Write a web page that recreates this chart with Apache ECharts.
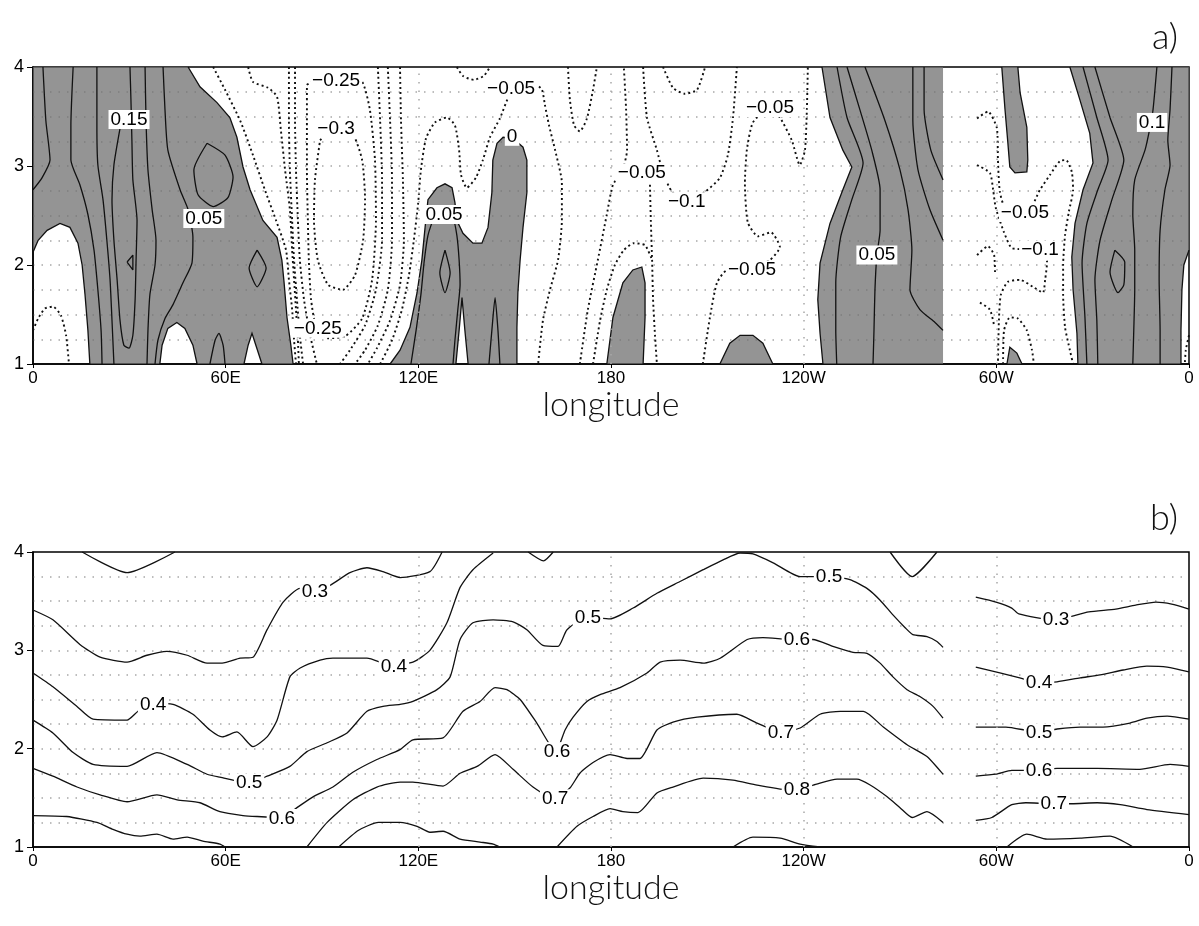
<!DOCTYPE html>
<html>
<head>
<meta charset="utf-8">
<script src="https://cdn.jsdelivr.net/npm/echarts@6.0.0/dist/echarts.min.js"></script>
<style>
  html, body { margin: 0; background: #fff; }
  #chart { width: 1199px; height: 926px; }
</style>
</head>
<body>
<div id="chart"></div>
<script>
// axis ticks
const lonTicks = [0, 60, 120, 180, 240, 300, 360];
const lonNames = ['0', '60E', '120E', '180', '120W', '60W', '0'];
const gridLons = [120, 180, 240, 300];   // dotted meridians
const GAP_LON = 283.4;                    // data stops here in panel a (missing strip)

// ---- panel a : shaded (positive) regions, [lon, y] ----
const shadeA = [
  [[0,4],[48.3,4],[52.0,3.80],[57.3,3.64],[61.3,3.49],[63.5,3.29],[65.4,2.99],[67.6,2.76],[71.6,2.45],[76.0,2.28],[77.5,2.05],[78.2,1.82],[79.1,1.47],[80.3,1.19],[81.0,1],
   [71.3,1],[69.4,1.19],[68.2,1.31],[67.0,1.19],[65.7,1],[51.1,1],[49.8,1.19],[47.3,1.36],[44.8,1.42],[42.0,1.36],[40.2,1.19],[39.5,1],
   [17.7,1],[17.1,1.34],[16.2,1.70],[15.3,2.00],[14.0,2.22],[11.5,2.38],[8.4,2.42],[4.4,2.35],[1.6,2.25],[0,2.13]],
  [[111.2,1],[114.3,1.14],[117.4,1.37],[119.6,1.72],[121.1,2.05],[122.1,2.38],[123.0,2.66],[125.8,2.78],[128.3,2.82],[130.5,2.78],[131.4,2.63],[132.0,2.45],[133.9,2.32],[137.0,2.22],[139.8,2.22],[141.7,2.38],[142.9,2.73],[143.2,3.06],[144.5,3.23],[146.4,3.29],[149.5,3.28],[152.6,3.19],[153.8,3.06],[153.8,2.73],[152.6,2.38],[151.7,2.05],[151.0,1.72],[150.7,1.37],[150.7,1],
   [135.5,1],[134.5,1.34],[133.6,1.67],[132.7,1.34],[131.7,1]],
  [[178.7,1],[180.6,1.47],[183.7,1.82],[186.8,1.95],[189.6,1.98],[190.6,1.82],[190.6,1.47],[190.0,1]],
  [[213.9,1],[217.0,1.21],[220.2,1.29],[224.2,1.29],[227.3,1.21],[230.4,1]],
  [[245.7,4],[283.4,4],[283.4,1],[246.0,1],[245.1,1.31],[244.4,1.65],[245.1,2.02],[248.2,2.42],[252.2,2.76],[255.0,2.99],[252.2,3.16],[248.2,3.49]],
  [[301.7,4],[302.7,3.57],[303.6,3.23],[304.2,2.99],[305.8,2.93],[309.5,2.94],[309.8,3.06],[309.5,3.39],[307.4,3.74],[306.7,4]],
  [[303.3,1],[304.2,1.17],[306.4,1.11],[308.0,1]],
  [[322.9,4],[360,4],[360,2.15],[358.4,2.0],[357.8,1.75],[357.5,1.34],[357.5,1],[325.4,1],[325.1,1.31],[323.9,1.75],[323.5,2.08],[324.5,2.42],[327.0,2.76],[330.1,3.03],[329.1,3.33],[326.0,3.67]]
];

// ---- panel a : solid (positive) contours ----
const solidA = [
  [[3.1,4],[4.0,3.46],[5.3,3.06],[2.8,2.88],[0,2.76]],
  [[12.5,4],[11.8,3.41],[11.8,3.06],[14.6,2.81],[17.1,2.51],[19.0,2.15],[20.2,1.75],[21.2,1.34],[21.5,1]],
  [[19.9,4],[19.9,3.41],[20.2,3.01],[21.8,2.66],[23.0,2.25],[24.0,1.85],[24.6,1.44],[25.2,1]],
  [[27.1,3.38],[25.2,3.01],[24.6,2.66],[25.2,2.25],[26.2,1.85],[27.1,1.44],[28.3,1.19],[29.9,1.16],[31.1,1.29],[31.8,1.65],[32.1,2.05],[32.4,2.45],[31.1,2.86],[30.8,3.26],[30.5,3.67],[30.2,4]],
  [[29.3,2.03],[31.1,2.10],[31.1,1.95],[29.3,2.03]],
  [[34.9,4],[35.2,3.46],[35.8,2.96],[37.1,2.56],[38.3,2.25],[38.0,2.0],[36.4,1.70],[35.8,1.34],[35.5,1]],
  [[40.5,4],[41.1,3.57],[42.0,3.16],[45.8,2.76],[48.3,2.56],[49.8,2.28],[49.5,2.02],[46.7,1.82],[43.6,1.60],[41.1,1.46],[38.9,1.24],[38.0,1]],
  [[54.2,3.23],[59.8,3.11],[62.3,2.89],[60.7,2.68],[56.1,2.59],[51.4,2.71],[50.1,2.96],[54.2,3.23]],
  [[69.8,2.15],[72.6,1.97],[69.8,1.78],[67.3,1.97],[69.8,2.15]],
  [[55.1,1],[56.7,1.24],[57.9,1.31],[59.2,1.19],[59.8,1]],
  [[117.7,1],[119.3,1.34],[120.8,1.70],[121.8,2.03],[123.0,2.30],[124.9,2.47],[128.0,2.53],[130.8,2.47],[132.0,2.30],[132.7,2.05],[133.0,1.80],[132.3,1.55],[131.4,1.24],[130.8,1]],
  [[128.3,2.15],[129.9,1.92],[128.3,1.72],[126.7,1.92],[128.3,2.15]],
  [[142.0,1],[142.9,1.34],[143.9,1.67],[144.8,1.34],[145.4,1]],
  [[250.4,4],[253.5,3.49],[258.5,3.03],[255.0,2.66],[251.5,2.28],[250.0,1.82],[250.0,1.34],[250.3,1]],
  [[253.5,4],[257.5,3.57],[261.2,3.16],[263.8,2.76],[263.8,2.35],[262.8,2.10],[262.2,1.75],[261.9,1.34],[261.6,1]],
  [[259.1,4],[265.3,3.46],[270.0,2.96],[272.5,2.56],[273.7,2.15],[273.1,1.75],[276.2,1.55],[280.9,1.42],[283.4,1.34]],
  [[274.0,4],[274.0,3.46],[275.6,2.96],[279.3,2.56],[283.4,2.25]],
  [[277.5,4],[277.5,3.57],[279.6,3.16],[283.4,2.86]],
  [[327.0,4],[331.3,3.49],[334.8,3.06],[331.6,2.76],[328.2,2.42],[326.7,2.02],[327.6,1.47],[328.2,1]],
  [[330.7,4],[335.4,3.49],[339.7,3.06],[336.0,2.66],[332.3,2.25],[330.7,1.85],[331.3,1.44],[331.6,1]],
  [[350.0,4],[348.8,3.57],[347.8,3.38],[346.3,3.16],[343.1,2.86],[342.5,2.51],[343.1,2.15],[343.1,1.75],[342.8,1.34],[342.5,1]],
  [[354.7,4],[354.1,3.57],[353.4,3.26],[354.1,3.01],[352.5,2.76],[351.0,2.35],[350.7,1.85],[351.0,1.34],[351.0,1]],
  [[336.9,2.15],[340.0,2.03],[339.7,1.80],[337.9,1.72],[335.4,1.93],[336.9,2.15]]
];

// ---- panel a : dashed (negative) contours ----
const dashA = [
  [[0,1.34],[1.6,1.46],[3.7,1.56],[6.2,1.58],[8.7,1.49],[10.3,1.29],[11.2,1]],
  [[56.1,4],[59.8,3.77],[64.5,3.46],[68.5,3.11],[72.2,2.76],[75.7,2.45],[78.8,2.15],[79.7,1.85],[80.7,1.55],[81.3,1.24],[81.9,1]],
  [[67.0,4],[68.5,3.85],[73.2,3.79],[76.0,3.70],[77.2,3.36],[78.5,2.96],[80.0,2.56],[80.7,2.15],[81.3,1.85],[81.9,1.55],[82.5,1.24],[82.8,1]],
  [[79.7,4],[79.7,3.46],[80.0,2.96],[80.7,2.45],[81.3,2.05],[82.2,1.65],[83.1,1.29],[84.1,1]],
  [[81.6,4],[81.6,3.46],[81.9,2.96],[82.5,2.45],[83.1,2.05],[84.4,1.65],[86.3,1.29],[88.4,1]],
  [[85.3,3.82],[89.4,3.90],[97.2,3.93],[102.5,3.85],[104.9,3.57],[106.5,3.06],[106.8,2.45],[105.6,1.85],[102.5,1.46],[97.2,1.28],[91.9,1.26],[88.1,1.39],[86.6,1.65],[85.9,2.05],[85.6,2.45],[85.3,2.96],[85.3,3.46],[85.3,3.82]],
  [[89.4,3.26],[94.0,3.38],[99.3,3.34],[102.5,3.06],[103.4,2.66],[102.8,2.25],[100.3,1.90],[96.5,1.75],[91.9,1.80],[88.7,2.05],[87.5,2.45],[87.8,2.86],[89.4,3.26]],
  [[107.4,4],[108.1,3.46],[108.7,2.86],[108.7,2.25],[106.8,1.75],[103.4,1.39],[98.7,1.14],[95.6,1]],
  [[110.5,4],[111.2,3.46],[111.8,2.86],[111.8,2.25],[110.5,1.75],[107.4,1.39],[103.4,1.14],[100.3,1]],
  [[114.3,4],[114.6,3.46],[115.2,2.86],[115.5,2.25],[114.3,1.80],[111.2,1.44],[107.1,1.16],[104.3,1]],
  [[108.1,1],[111.8,1.24],[114.9,1.55],[117.1,1.90],[118.6,2.25],[119.9,2.61],[120.8,2.96],[122.4,3.28],[125.2,3.44],[128.9,3.49],[131.4,3.41],[132.7,3.16],[133.3,2.91],[135.1,2.78],[137.9,2.88],[140.1,3.06],[142.3,3.29],[145.4,3.48],[148.5,3.72],[152.3,3.79],[156.3,3.83],[158.5,3.77],[159.4,3.62],[160.7,3.41],[162.6,3.16],[164.7,2.83],[164.7,2.45],[163.5,2.05],[161.0,1.75],[158.8,1.44],[157.3,1]],
  [[132.0,4],[133.9,3.91],[137.3,3.87],[140.4,3.91],[142.3,4]],
  [[166.6,4],[167.2,3.67],[168.5,3.41],[170.3,3.35],[172.5,3.48],[174.4,3.77],[175.6,4]],
  [[170.3,1],[172.8,1.55],[175.9,2.05],[178.7,2.51],[180.6,2.81],[183.4,2.94],[185.0,3.16],[184.7,3.57],[184.0,4]],
  [[192.1,2.86],[192.4,2.45],[192.8,2.05],[193.1,1.65],[193.7,1.29],[194.3,1]],
  [[174.4,1],[176.6,1.44],[178.7,1.75],[181.2,2.0],[184.0,2.15],[187.1,2.22],[190.6,2.20],[192.8,2.05]],
  [[190.0,4],[191.2,3.49],[194.3,3.16],[196.2,2.93],[199.0,2.74],[203.6,2.64],[209.3,2.74],[213.9,2.88],[216.4,3.11],[218.0,3.49],[219.2,4]],
  [[196.2,4],[199.3,3.79],[203.0,3.73],[206.8,3.77],[209.3,4]],
  [[208.6,1],[210.8,1.47],[213.0,1.82],[216.1,1.95],[223.9,1.97],[229.5,2.05],[232.6,2.18],[229.8,2.33],[225.8,2.29],[222.6,2.43],[221.7,2.83],[222.3,3.16],[224.2,3.44],[229.5,3.59],[232.6,3.49],[236.3,3.26],[238.8,3.01],[240.4,3.16],[241.0,3.57],[241.3,4]],
  [[294.0,3.48],[297.4,3.55],[300.2,3.38],[300.5,3.06],[301.1,2.74],[303.0,2.56],[309.5,2.53],[313.6,2.76],[316.7,2.91],[319.8,3.05],[321.7,3.06],[323.5,2.94],[323.9,2.76],[322.6,2.54],[321.4,2.30],[320.8,2.0],[320.8,1.70],[321.4,1.37],[322.9,1.14],[323.9,1]],
  [[294.0,3.01],[298.0,2.93],[299.0,2.76],[299.8,2.58],[302.4,2.33],[304.9,2.17],[313.6,2.15],[315.8,2.03],[315.2,1.85],[314.5,1.72],[311.4,1.78],[307.4,1.85],[303.6,1.83],[301.4,1.70],[300.8,1.44],[300.5,1]],
  [[294.0,2.10],[297.4,2.19],[299.3,2.10],[299.6,1.9]],
  [[294.9,1.62],[298.0,1.55],[299.3,1.39]],
  [[302.1,1],[302.4,1.34],[304.2,1.47],[306.7,1.46],[309.5,1.34],[311.1,1.14],[311.7,1]],
  [[360,1.29],[359.0,1.14],[358.7,1]]
];

// ---- panel a : contour labels [lon, y, text] ----
const labelsA = [
  [29.9, 3.47, '0.15'], [53.2, 2.47, '0.05'], [94.4, 3.86, '\u22120.25'], [94.4, 3.38, '\u22120.3'],
  [88.7, 1.36, '\u22120.25'], [148.9, 3.78, '\u22120.05'], [149.2, 3.30, '0'], [128.0, 2.51, '0.05'],
  [189.6, 2.93, '\u22120.05'], [203.6, 2.64, '\u22120.1'], [229.5, 3.59, '\u22120.05'], [223.9, 1.95, '\u22120.05'],
  [262.8, 2.10, '0.05'], [308.9, 2.53, '\u22120.05'], [313.6, 2.15, '\u22120.1'], [348.5, 3.44, '0.1']
];

// ---- panel b : contours ----
const linesB = [
  [[15.3,4],[29.3,3.79],[44.2,4]],
  [[154.2,4],[159,3.91],[162,4]],
  [[266.9,4],[273.8,3.75],[281.5,4]],
  // 0.3
  [[0,3.41],[6.2,3.31],[14.6,3.06],[20.9,2.93],[29.3,2.88],[35.5,2.95],[41.7,2.99],[48,2.95],[54.2,2.87],[58.9,2.87],[64.5,2.92],[68.5,2.93],[72.9,3.21],[77.9,3.49],[83.2,3.63],[87.8,3.6],[92.5,3.66],[98.7,3.79],[104,3.84],[109,3.8],[114.3,3.74],[123.6,3.8],[127.4,4]],
  // 0.4
  [[0,2.77],[6.2,2.63],[13.7,2.43],[18.7,2.3],[29.3,2.29],[32.7,2.38],[37.4,2.46],[43.6,2.45],[49.8,2.35],[55.1,2.19],[58.9,2.12],[63.5,2.17],[68.5,2.02],[72.9,2.12],[76,2.29],[80,2.73],[83.2,2.82],[89.4,2.9],[93.4,2.92],[104,2.92],[111.2,2.85],[118.3,2.88],[123.6,3.0],[128.9,3.28],[133,3.64],[137,3.82],[143.3,3.99]],
  // 0.5
  [[0,2.29],[6.2,2.16],[12.5,1.96],[18.7,1.84],[29.3,1.82],[38.6,1.96],[48,1.84],[54.2,1.74],[58.2,1.71],[67.6,1.65],[72.9,1.72],[80,1.82],[85.3,1.97],[91.6,2.06],[97.8,2.16],[104,2.38],[109,2.43],[114.3,2.45],[118.3,2.48],[125.8,2.6],[129.9,2.73],[133,3.11],[137,3.28],[143.3,3.31],[149.5,3.29],[153.8,3.21],[158.8,3.05],[163.5,3.04],[166.3,3.21],[172.8,3.34],[179.7,3.32],[186.9,3.43],[194.3,3.58],[201.5,3.7],[208.7,3.82],[214.9,3.92],[220.2,3.99],[224.2,3.98],[230.5,3.89],[238.9,3.75],[247.9,3.75],[254.4,3.72],[259.7,3.63],[263.8,3.51],[267.8,3.36],[271.6,3.23],[274,3.16],[278.4,3.14],[281.5,3.09],[283.4,3.03]],
  // 0.6
  [[0,1.8],[6.2,1.72],[13.7,1.61],[20.9,1.53],[29.3,1.46],[38.6,1.53],[44.9,1.48],[52,1.45],[58.2,1.36],[65.4,1.32],[69.8,1.31],[77.5,1.3],[82.2,1.4],[87.2,1.51],[93.4,1.61],[99.6,1.76],[107.1,1.89],[114.3,1.99],[118.3,2.09],[127.7,2.11],[133.9,2.38],[139.2,2.48],[143.9,2.62],[147.6,2.6],[151.7,2.5],[156.9,2.26],[162.8,1.97],[165.7,2.19],[168.2,2.32],[172.5,2.48],[176.6,2.55],[182.8,2.62],[191.2,2.77],[195.3,2.88],[201.5,2.9],[208.7,2.87],[214,2.92],[222.4,3.11],[227.3,3.13],[236.7,3.11],[242.9,3.11],[249.1,3.04],[255.4,2.98],[259.7,2.97],[263.8,2.87],[267.8,2.73],[272.2,2.6],[276.2,2.53],[280.3,2.43],[283.4,2.31]],
  // 0.7
  [[0,1.32],[10.5,1.31],[19.9,1.25],[24.9,1.18],[29.3,1.13],[33.3,1.11],[38.6,1.13],[43.6,1.08],[48,1.1],[52.9,1.06],[58.2,1.03],[59.8,1.0]],
  [[85.3,1.0],[91.6,1.25],[99.6,1.48],[107.1,1.61],[114.3,1.66],[118.3,1.66],[127.7,1.62],[133,1.75],[138.3,1.82],[143.9,1.94],[149.5,1.79],[155.7,1.61],[162.5,1.49],[167.2,1.6],[170.3,1.75],[174.4,1.86],[179.7,1.94],[185,1.9],[189,1.9],[194.3,2.19],[199.3,2.27],[206.8,2.32],[219.2,2.35],[225.5,2.26],[232.7,2.17],[238.9,2.21],[245.1,2.35],[251.4,2.38],[258.6,2.38],[264.8,2.22],[272.2,2.04],[278.4,1.92],[283.4,1.74]],
  // 0.8
  [[95.2,1.0],[101.4,1.17],[107.6,1.25],[114.3,1.25],[119.6,1.21],[123.6,1.15],[127.7,1.16],[133,1.08],[139.2,1.05],[143.3,1.03],[145.4,1.0]],
  [[163.2,1.0],[169.4,1.21],[174.4,1.31],[179.7,1.39],[183.7,1.36],[188.4,1.35],[194.3,1.55],[199.3,1.61],[208.7,1.7],[218,1.68],[225.5,1.63],[235.8,1.58],[243,1.63],[250.4,1.69],[256.6,1.69],[260.7,1.63],[266,1.51],[270,1.4],[273.8,1.3],[278.4,1.36],[283.4,1.25]],
  // 0.9
  [[218,1.0],[224.2,1.1],[232.7,1.09],[238.9,1.03],[245.1,1.0]],
  // east of the data gap
  [[293.6,3.54],[299.9,3.49],[304.8,3.43],[307,3.37],[317.9,3.31],[322.6,3.34],[328.8,3.39],[337.2,3.42],[343.4,3.46],[349.7,3.49],[354.6,3.47],[360,3.42]],
  [[293.6,2.83],[301.1,2.77],[307.3,2.72],[312.9,2.67],[318.9,2.68],[326.1,2.72],[332.3,2.75],[339.5,2.8],[346.9,2.84],[353.2,2.83],[360,2.78]],
  [[293.6,2.22],[303,2.22],[312.9,2.17],[318.9,2.2],[326.1,2.22],[333.2,2.22],[341.6,2.26],[346.9,2.31],[353.2,2.33],[360,2.3]],
  [[293.6,1.72],[299.9,1.74],[304.8,1.78],[312.9,1.78],[318.9,1.8],[331.4,1.8],[344.7,1.79],[354.1,1.84],[360,1.82]],
  [[293.6,1.27],[298.6,1.3],[304.8,1.43],[309.2,1.45],[317.3,1.44],[323.5,1.44],[331.4,1.45],[338.6,1.43],[346.9,1.38],[360,1.33]],
  [[303.3,1.0],[309.5,1.13],[315.8,1.08],[326.1,1.09],[335.4,1.11],[342.6,1.0]]
];

const labelsB = [
  [87.8, 3.60, '0.3'], [37.4, 2.45, '0.4'], [112.4, 2.83, '0.4'], [67.3, 1.65, '0.5'],
  [172.8, 3.33, '0.5'], [247.9, 3.75, '0.5'], [77.5, 1.29, '0.6'], [163.2, 1.97, '0.6'],
  [237.9, 3.11, '0.6'], [162.6, 1.49, '0.7'], [232.9, 2.16, '0.7'], [237.9, 1.58, '0.8'],
  [318.6, 3.31, '0.3'], [313.3, 2.67, '0.4'], [313.3, 2.16, '0.5'], [313.3, 1.78, '0.6'],
  [317.9, 1.44, '0.7']
];

const SHADE = 'rgba(110,110,110,0.74)';
const DOT = { color: '#a8a8a8', type: [1.5, 7], width: 1.5 };
const SANS = '"Liberation Sans", Arial, sans-serif';

function onFrame(p, q) {
  if (p[1] === q[1] && (p[1] === 1 || p[1] === 4)) return true;
  if (p[0] === q[0] && (p[0] === 0 || p[0] === 360 || p[0] === GAP_LON)) return true;
  return false;
}

function outline(run) {
  return { type: 'polyline', shape: { points: run }, style: { stroke: '#111', lineWidth: 1.3, fill: null } };
}

function shadeSeries(polys, gi) {
  return {
    type: 'custom', xAxisIndex: gi, yAxisIndex: gi, silent: true, z: 1,
    data: polys.map((p, i) => [p[0][0], p[0][1], i]),
    renderItem: function (params, api) {
      const poly = polys[params.dataIndex];
      const pts = poly.map(p => api.coord(p));
      const kids = [{ type: 'polygon', shape: { points: pts }, style: { fill: SHADE } }];
      // the zero contour is the outline, except where it runs along the frame or the gap
      let run = [pts[0]];
      for (let k = 0; k < poly.length; k++) {
        const n = (k + 1) % poly.length;
        if (onFrame(poly[k], poly[n])) {
          if (run.length > 1) kids.push(outline(run));
          run = [pts[n]];
        } else {
          run.push(pts[n]);
        }
      }
      if (run.length > 1) kids.push(outline(run));
      return { type: 'group', children: kids };
    }
  };
}

function contour(pts, gi, dashed) {
  return {
    type: 'line', xAxisIndex: gi, yAxisIndex: gi, data: pts, symbol: 'none', smooth: 0.2,
    silent: true, z: 3,
    lineStyle: dashed ? { color: '#111', width: 1.9, type: [2, 3] } : { color: '#111', width: 1.3 }
  };
}

function labelSeries(list, gi) {
  return {
    type: 'custom', xAxisIndex: gi, yAxisIndex: gi, z: 6, silent: true,
    data: list.map(l => [l[0], l[1]]),
    renderItem: function (params, api) {
      const c = api.coord([api.value(0), api.value(1)]);
      return {
        type: 'text', x: c[0], y: c[1],
        style: { text: list[params.dataIndex][2], fill: '#000', font: '19px ' + SANS,
                 align: 'center', verticalAlign: 'middle', backgroundColor: '#fff', padding: [0, 2] }
      };
    }
  };
}

function meridians(gi) {
  return {
    type: 'line', xAxisIndex: gi, yAxisIndex: gi, data: [], silent: true,
    markLine: { silent: true, symbol: 'none', label: { show: false }, lineStyle: DOT,
                data: gridLons.map(v => ({ xAxis: v })) }
  };
}

function xAx(gi) {
  return {
    gridIndex: gi, type: 'value', min: 0, max: 360, interval: 60,
    axisLine: { show: true, lineStyle: { color: '#000', width: 1.5 } },
    axisTick: { show: true, length: 4, lineStyle: { color: '#000' } },
    axisLabel: { formatter: v => lonNames[lonTicks.indexOf(v)], color: '#000', fontSize: 17,
                 fontFamily: SANS, margin: 6 },
    splitLine: { show: false },
    name: 'longitude', nameLocation: 'middle', nameGap: 18,
    nameTextStyle: { fontSize: 34, fontFamily: 'Lato', fontWeight: 300, color: '#111', verticalAlign: 'top' }
  };
}

function yAx(gi) {
  return {
    gridIndex: gi, type: 'value', min: 1, max: 4, interval: 1,
    axisLine: { show: true, lineStyle: { color: '#000', width: 1.5 } },
    axisTick: { show: true, length: 6, lineStyle: { color: '#000' } },
    axisLabel: { color: '#000', fontSize: 18, fontFamily: SANS, margin: 9 },
    splitLine: { show: true, showMinLine: false, showMaxLine: false, lineStyle: DOT },
    minorTick: { show: false, splitNumber: 4 },
    minorSplitLine: { show: true, lineStyle: DOT }
  };
}

const series = [shadeSeries(shadeA, 0), meridians(0), meridians(1)];
solidA.forEach(l => series.push(contour(l, 0, false)));
dashA.forEach(l => series.push(contour(l, 0, true)));
series.push(labelSeries(labelsA, 0));
linesB.forEach(l => series.push(contour(l, 1, false)));
series.push(labelSeries(labelsB, 1));

const chart = echarts.init(document.getElementById('chart'));
chart.setOption({
  animation: false,
  backgroundColor: '#fff',
  title: [
    { text: 'a)', right: 16, top: 14, textStyle: { fontSize: 36, fontWeight: 300, fontFamily: 'Lato', color: '#111' } },
    { text: 'b)', right: 16, top: 495, textStyle: { fontSize: 36, fontWeight: 300, fontFamily: 'Lato', color: '#111' } }
  ],
  grid: [
    { left: 33, right: 10, top: 67, height: 297, show: true, borderColor: '#000', borderWidth: 1.5 },
    { left: 33, right: 10, top: 552, height: 295, show: true, borderColor: '#000', borderWidth: 1.5 }
  ],
  xAxis: [xAx(0), xAx(1)],
  yAxis: [yAx(0), yAx(1)],
  series: series
});
window.addEventListener('resize', () => chart.resize());
</script>
</body>
</html>
